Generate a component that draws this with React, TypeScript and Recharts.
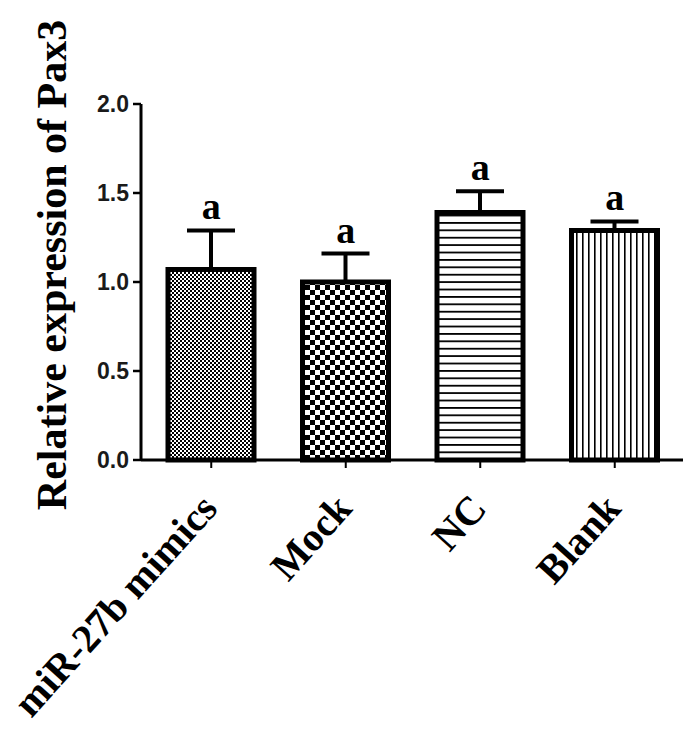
import { Bar, Cell, ComposedChart, ErrorBar, Label, LabelList, Line, XAxis, YAxis } from "recharts";

const categories = ["miR-27b mimics", "Mock", "NC", "Blank"];
const means = [1.07, 1.0, 1.39, 1.29];
const errors = [0.22, 0.16, 0.12, 0.05];
const sigLetters = ["a", "a", "a", "a"];
const yTicks = [0, 0.5, 1, 1.5, 2];
const patternIds = ["dots", "checker", "hlines", "vlines"];

const data = categories.map((name, i) => ({
  name,
  mean: means[i],
  err: [0, errors[i]],
  top: means[i] + errors[i],
  sig: sigLetters[i],
}));

const serif = "'Liberation Serif', 'Times New Roman', serif";
const sans = "'Liberation Sans', Arial, sans-serif";

function CategoryTick({ x, y, payload }: any) {
  return (
    <g transform={`translate(${x + 8},${y + 40})`}>
      <text
        textAnchor="end"
        transform="rotate(-48)"
        fontFamily={serif}
        fontWeight="bold"
        fontSize={40}
        fill="#000"
      >
        {payload.value}
      </text>
    </g>
  );
}

function YTitle({ viewBox }: any) {
  const cx = viewBox.x - 15;
  const cy = viewBox.y + viewBox.height / 2 - 17;
  return (
    <text
      x={cx}
      y={cy}
      transform={`rotate(-90, ${cx}, ${cy})`}
      textAnchor="middle"
      fontFamily={serif}
      fontWeight="bold"
      fontSize={42}
      fill="#000"
    >
      Relative expression of Pax3
    </text>
  );
}

export default function App() {
  return (
    <div style={{ position: "absolute", left: 0, top: 0, background: "#fff" }}>
      <ComposedChart
        width={685}
        height={740}
        data={data}
        margin={{ top: 104, right: 2, bottom: 10, left: 81 }}
      >
        <defs>
          <pattern id="dots" width="4" height="4" patternUnits="userSpaceOnUse">
            <rect width="4" height="4" fill="#fff" />
            <rect x="0" y="0" width="2" height="2" fill="#000" />
            <rect x="2" y="2" width="2" height="2" fill="#000" />
          </pattern>
          <pattern id="checker" width="10" height="10" patternUnits="userSpaceOnUse">
            <rect width="10" height="10" fill="#fff" />
            <rect x="0" y="0" width="5" height="5" fill="#000" />
            <rect x="5" y="5" width="5" height="5" fill="#000" />
          </pattern>
          <pattern id="hlines" width="8" height="7.4" patternUnits="userSpaceOnUse">
            <rect width="8" height="7.4" fill="#fff" />
            <rect x="0" y="0" width="8" height="1.8" fill="#000" />
          </pattern>
          <pattern id="vlines" width="6" height="8" patternUnits="userSpaceOnUse">
            <rect width="6" height="8" fill="#fff" />
            <rect x="0" y="0" width="1.6" height="8" fill="#000" />
          </pattern>
        </defs>
        <XAxis
          dataKey="name"
          interval={0}
          height={270}
          padding={{ left: 3, right: 1 }}
          axisLine={{ stroke: "#000", strokeWidth: 3 }}
          tickLine={{ stroke: "#000", strokeWidth: 2 }}
          tickSize={8}
          tick={<CategoryTick />}
        />
        <YAxis
          domain={[0, 2]}
          ticks={yTicks}
          width={60}
          tickFormatter={(v: number) => v.toFixed(1)}
          axisLine={{ stroke: "#000", strokeWidth: 3 }}
          tickLine={{ stroke: "#000", strokeWidth: 2.5 }}
          tickSize={8}
          tickMargin={4}
          tick={{ fontFamily: sans, fontWeight: "bold", fontSize: 23, fill: "#1a1a1a" }}
        >
          <Label content={<YTitle />} />
        </YAxis>
        <Bar dataKey="mean" barSize={86} stroke="#000" strokeWidth={5} isAnimationActive={false}>
          {data.map((d, i) => (
            <Cell key={d.name} fill={`url(#${patternIds[i]})`} />
          ))}
          <ErrorBar dataKey="err" width={24} stroke="#000" strokeWidth={4} isAnimationActive={false} />
        </Bar>
        <Line
          dataKey="top"
          stroke="none"
          dot={false}
          activeDot={false}
          isAnimationActive={false}
        >
          <LabelList
            dataKey="sig"
            position="top"
            offset={11}
            fontFamily={serif}
            fontWeight="bold"
            fontSize={38}
            fill="#000"
          />
        </Line>
      </ComposedChart>
    </div>
  );
}
